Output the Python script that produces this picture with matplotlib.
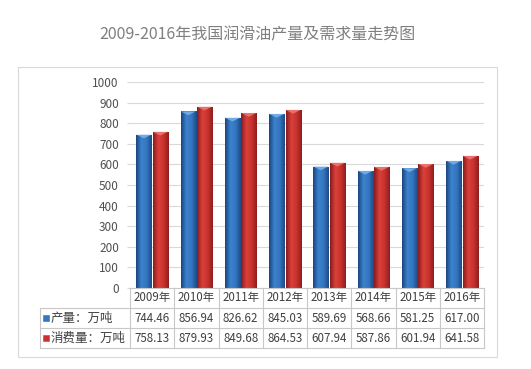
import matplotlib
matplotlib.use("Agg")
import matplotlib.pyplot as plt
import matplotlib.transforms as mtransforms
import numpy as np
from matplotlib.colors import LinearSegmentedColormap
from matplotlib.patches import Rectangle, Polygon
from matplotlib.lines import Line2D

plt.rcParams['font.family'] = ['Noto Sans CJK SC', 'DejaVu Sans']

# Data
title = "2009-2016年我国润滑油产量及需求量走势图"
years = ["2009年", "2010年", "2011年", "2012年", "2013年", "2014年", "2015年", "2016年"]
production = [744.46, 856.94, 826.62, 845.03, 589.69, 568.66, 581.25, 617.00]
consumption = [758.13, 879.93, 849.68, 864.53, 607.94, 587.86, 601.94, 641.58]
series_names = ["产量：万吨", "消费量：万吨"]
yticks = [0, 100, 200, 300, 400, 500, 600, 700, 800, 900, 1000]

W, H = 531, 369
fig = plt.figure(figsize=(W / 100, H / 100), dpi=100)


def fx(px):
    return px / W


def fy(py):
    return 1 - py / H


# outer chart frame
fig.patches.append(Rectangle((fx(18), fy(357)), fx(497) - fx(18), fy(67) - fy(357),
                             transform=fig.transFigure, fill=False, ec="#d9d9d9", lw=0.8))

fig.text(fx(257), fy(35), title, ha='center', va='center', fontsize=11.5, color='#7f7f7f')

ax = fig.add_axes([fx(130), fy(288), fx(484) - fx(130), fy(82) - fy(288)])
x = np.arange(len(years))
bw = 0.34

blue_cmap = LinearSegmentedColormap.from_list('blue', ['#1a4480', '#3b82cc', '#3576c0', '#1c4a88'])
red_cmap = LinearSegmentedColormap.from_list('red', ['#8a1b1b', '#d9403a', '#c9322e', '#8e1d1d'])
grad = np.linspace(0, 1, 64).reshape(1, -1)


def draw_bars(xs, vals, cmap, top_color):
    bars = ax.bar(xs, vals, bw, color='none', zorder=3)
    for b in bars:
        x0, w, h = b.get_x(), b.get_width(), b.get_height()
        im = ax.imshow(grad, cmap=cmap, extent=(x0, x0 + w, 0, h), aspect='auto', zorder=3)
        im.set_clip_path(b)
        ax.add_patch(Polygon([(x0, h), (x0 + w, h), (x0 + w / 2, h - 18)],
                             closed=True, fc=top_color, ec='none', alpha=0.85, zorder=4))
    return bars


draw_bars(x - 0.185, production, blue_cmap, '#7db4ea')
draw_bars(x + 0.185, consumption, red_cmap, '#ee7c78')

ax.set_xlim(-0.5, len(years) - 0.5)
ax.set_ylim(0, 1000)
ax.set_yticks(yticks)
ax.set_xticks([])
ax.grid(axis='y', color='#d9d9d9', lw=0.8, zorder=0)
for s in ax.spines.values():
    s.set_visible(False)
ax.tick_params(axis='y', length=2, color='#d9d9d9', pad=6, labelsize=8.5, labelcolor='#505050')

# data table under the chart
tline = '#c8c8c8'
tsize = 8.3
trans = mtransforms.blended_transform_factory(ax.transData, fig.transFigure)
rows_y = [288, 308, 328, 348]
for i in range(len(years) + 1):
    fig.add_artist(Line2D([i - 0.5, i - 0.5], [fy(288), fy(348)], transform=trans, color=tline, lw=0.8))
fig.add_artist(Line2D([fx(130), fx(484)], [fy(288), fy(288)], transform=fig.transFigure, color=tline, lw=0.8))
for ry in rows_y[1:]:
    fig.add_artist(Line2D([fx(40), fx(484)], [fy(ry), fy(ry)], transform=fig.transFigure, color=tline, lw=0.8))
fig.add_artist(Line2D([fx(40), fx(40)], [fy(308), fy(348)], transform=fig.transFigure, color=tline, lw=0.8))

for i, yr in enumerate(years):
    fig.text(i, fy(298), yr, transform=trans, ha='center', va='center', fontsize=tsize, color='#404040')
    fig.text(i, fy(318), f"{production[i]:.2f}", transform=trans, ha='center', va='center',
             fontsize=tsize, color='#404040')
    fig.text(i, fy(338), f"{consumption[i]:.2f}", transform=trans, ha='center', va='center',
             fontsize=tsize, color='#404040')

for name, cy, mc in [(series_names[0], 318, '#3576c0'), (series_names[1], 338, '#c9322e')]:
    fig.patches.append(Rectangle((fx(43), fy(cy + 3)), fx(6), fy(cy - 3) - fy(cy + 3),
                                 transform=fig.transFigure, fc=mc, ec='#666666', lw=0.4))
    fig.text(fx(51), fy(cy), name, ha='left', va='center', fontsize=9, color='#404040')

fig.savefig("out.png", dpi=100)
